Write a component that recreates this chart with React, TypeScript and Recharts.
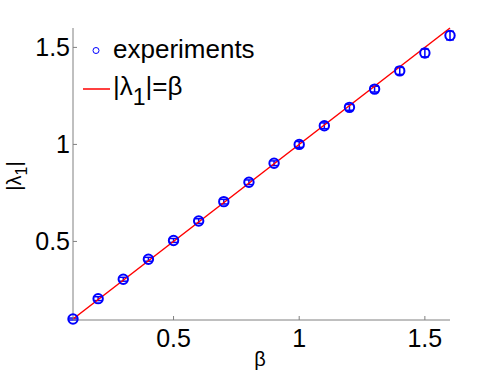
import React from 'react';
import {
  ComposedChart,
  Scatter,
  Line,
  XAxis,
  YAxis,
  ErrorBar,
} from 'recharts';

// beta values of the experiments
const BETA = [0.1, 0.2, 0.3, 0.4, 0.5, 0.6, 0.7, 0.8, 0.9, 1.0, 1.1, 1.2, 1.3, 1.4, 1.5, 1.6];
// measured |lambda_1|
const LAMBDA = [0.1, 0.205, 0.305, 0.408, 0.505, 0.605, 0.705, 0.805, 0.903, 1.0, 1.096, 1.191, 1.285, 1.379, 1.471, 1.561];
// error bar half-heights
const ERR = [0.005, 0.01, 0.01, 0.01, 0.01, 0.012, 0.012, 0.012, 0.012, 0.015, 0.015, 0.015, 0.015, 0.018, 0.02, 0.022];
// theory |lambda_1| = beta, end points
const THEORY_X = [0.1, 1.6];

const X_TICKS = [0.5, 1, 1.5];
const Y_TICKS = [0.5, 1, 1.5];

const experiments = BETA.map((x, i) => ({ x, y: LAMBDA[i], err: ERR[i] }));
const theory = THEORY_X.map((x) => ({ x, y: x }));

const FONT = '"Liberation Sans", Arial, Helvetica, sans-serif';
const AXIS = '#808080';
const BLUE = '#0000ff';
const RED = '#ff0000';

const XTick = (props: any) => {
  const { x, y, payload } = props;
  return (
    <g>
      <line x1={x} x2={x} y1={y} y2={y - 4} stroke={AXIS} strokeWidth={1} />
      <text x={x} y={y + 27} textAnchor="middle" fontSize={25} fontFamily={FONT} fill="#000">
        {payload.value}
      </text>
    </g>
  );
};

const YTick = (props: any) => {
  const { x, y, payload } = props;
  return (
    <g>
      <line x1={x} x2={x + 4} y1={y} y2={y} stroke={AXIS} strokeWidth={1} />
      <text x={x - 3} y={y + 9} textAnchor="end" fontSize={25} fontFamily={FONT} fill="#000">
        {payload.value}
      </text>
    </g>
  );
};

const Ring = (props: any) => {
  const { cx, cy } = props;
  return <circle cx={cx} cy={cy} r={4.7} fill="none" stroke={BLUE} strokeWidth={2} />;
};

// legend drawn as an overlay inside the axes, top-left like the original
const LegendBox = () => (
  <svg
    width={200}
    height={90}
    style={{ position: 'absolute', left: 78, top: 28, display: 'block', pointerEvents: 'none' }}
  >
    <circle cx={18} cy={22.5} r={3} fill="none" stroke={BLUE} strokeWidth={1} />
    <text x={35} y={30} fontSize={26} fontFamily={FONT} fill="#000">experiments</text>
    <line x1={5} x2={32} y1={61} y2={61} stroke={RED} strokeWidth={1.5} />
    <text x={35} y={67} fontSize={26} fontFamily={FONT} fill="#000">
      |λ<tspan dy={10} fontSize={23}>1</tspan><tspan dy={-10}>|=β</tspan>
    </text>
  </svg>
);

const YLabel = () => (
  <text
    x={21}
    y={176}
    transform="rotate(-90, 21, 176)"
    textAnchor="middle"
    fontSize={20}
    fontFamily={FONT}
    fill="#000"
  >
    |λ<tspan dy={6} fontSize={16}>1</tspan><tspan dy={-6}>|</tspan>
  </text>
);

const XLabel = () => (
  <text x={260} y={366} textAnchor="middle" fontSize={20} fontFamily={FONT} fill="#000">
    β
  </text>
);

export default function App() {
  return (
    <div style={{ position: 'absolute', left: 0, top: 0, width: 498, height: 374, background: '#fff' }}>
      <ComposedChart width={498} height={374} margin={{ top: 28, right: 48, bottom: 0, left: 0 }}>
        <XAxis
          dataKey="x"
          type="number"
          domain={[0.1, 1.6]}
          ticks={X_TICKS}
          height={54}
          tickSize={0}
          tickMargin={0}
          tickLine={false}
          stroke={AXIS}
          tick={<XTick />}
          label={{ content: () => <XLabel /> }}
        />
        <YAxis
          dataKey="y"
          type="number"
          domain={[0.1, 1.6]}
          ticks={Y_TICKS}
          width={73}
          tickSize={0}
          tickMargin={0}
          tickLine={false}
          stroke={AXIS}
          tick={<YTick />}
          label={{ content: () => <YLabel /> }}
        />
        <Scatter data={experiments} dataKey="y" shape={<Ring />} isAnimationActive={false}>
          <ErrorBar dataKey="err" direction="y" width={4} stroke={BLUE} strokeWidth={1.5} />
        </Scatter>
        <Line
          data={theory}
          dataKey="y"
          type="linear"
          stroke={RED}
          strokeWidth={1.5}
          dot={false}
          activeDot={false}
          isAnimationActive={false}
        />
      </ComposedChart>
      <LegendBox />
    </div>
  );
}
